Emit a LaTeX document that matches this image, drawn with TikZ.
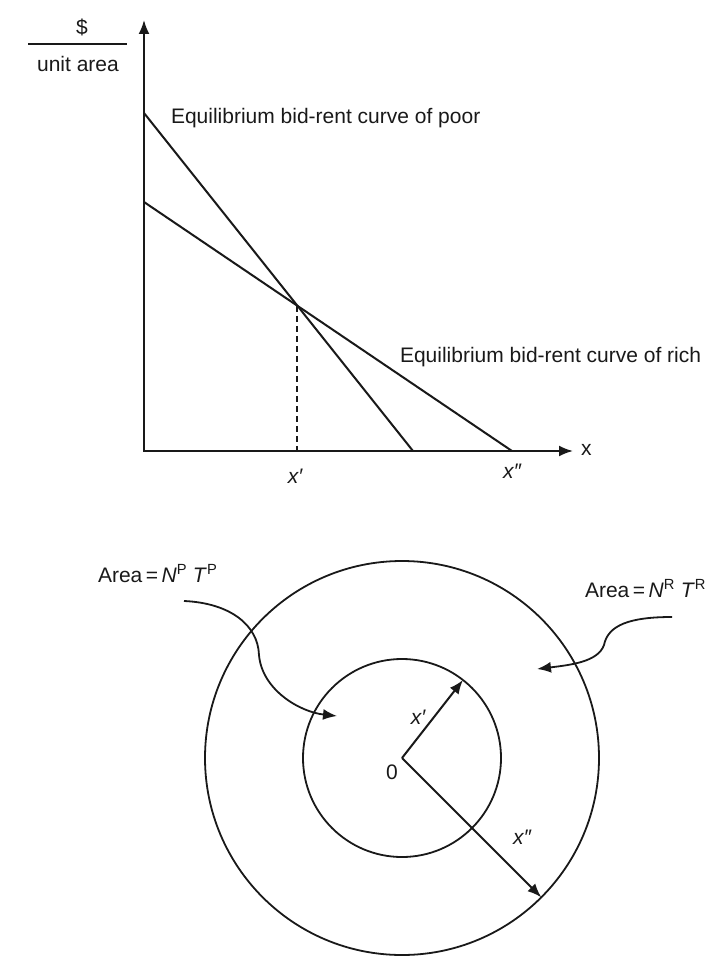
\documentclass[tikz,border=0pt]{standalone}
\usepackage{fontspec}
\setmainfont{Liberation Sans}
\usetikzlibrary{arrows.meta,calc}
\definecolor{ink}{rgb}{0.1,0.1,0.1}
\begin{document}
\begin{tikzpicture}[x=1pt,y=-1pt,line width=2pt,draw=ink,
  lbl/.style={font=\fontsize{21}{25}\selectfont,text=ink,inner sep=0pt,outer sep=0pt},
  tipend/.style={-{Latex[length=14pt,width=11pt]}},
  ring/.style={circle,draw=ink,line width=1.8pt,inner sep=0pt,outer sep=0pt}]
\useasboundingbox (0,0) rectangle (714,957);
% ---------- graph ----------
\coordinate (O) at (144,451);
\coordinate (ytop) at (144,20);
\coordinate (xend) at (573,451);
\draw[{Latex[length=14pt,width=11pt]}-{Latex[length=14pt,width=11pt]}] (ytop) -- (O) -- (xend);
\node[lbl,anchor=west] (xlab) at (581,450) {x};
\coordinate (p0) at (144,113);
\coordinate (p1) at (413,451);
\coordinate (r0) at (144,202);
\coordinate (r1) at (512,451);
\draw (p0) -- (p1);
\draw (r0) -- (r1);
\coordinate (X) at (intersection of p0--p1 and r0--r1);
\coordinate (Xb) at (X |- O);
\draw[line width=2pt,dash pattern=on 6pt off 4pt] (X) -- (Xb);
\node[lbl,anchor=base west] (poor) at (171,124) {Equilibrium bid-rent curve of poor};
\node[lbl,anchor=base west] (rich) at (400,362) {Equilibrium bid-rent curve of rich};
\node[lbl] (xp) at (295,476) {\itshape x′};
\node[lbl] (xpp) at (512,471) {\itshape x″};
\node[lbl] (dollar) at (82,27) {\$};
\coordinate (ru0) at (28,44);
\coordinate (ru1) at (127,44);
\draw[line width=1.8pt] (ru0) -- (ru1);
\node[lbl,anchor=base] (ua) at (78,72) {unit area};
% ---------- city ----------
\coordinate (C) at (402,758);
\node[ring,minimum size=198pt] (inner) at (C) {};
\node[ring,minimum size=394pt] (outer) at (C) {};
\draw[tipend] (C) -- (inner.52.6);
\draw[tipend] (C) -- (outer.-45);
\node[lbl] (zero) at (392,772) {0};
\node[lbl] (rxp) at (418,717) {\itshape x′};
\node[lbl] (rxpp) at (522,837) {\itshape x″};
\node[lbl,anchor=base west] (areaP) at (98,582) {Area\,=\,\textit{N}\textsuperscript{P} \textit{T}\textsuperscript{P}};
\node[lbl,anchor=base west] (areaR) at (585,597) {Area\,=\,\textit{N}\textsuperscript{R} \textit{T}\textsuperscript{R}};
\coordinate (wl0) at (184,601);
\coordinate (wl1) at (337,716);
\draw[tipend,line width=1.8pt] (wl0) .. controls (230,603) and (258,625) .. (259,655) .. controls (262,690) and (300,712) .. (wl1);
\coordinate (wr0) at (672,617);
\coordinate (wr1) at (537,669);
\draw[tipend,line width=1.8pt] (wr0) .. controls (630,617) and (608,625) .. (604,645) .. controls (598,662) and (570,665) .. (wr1);
\end{tikzpicture}
\end{document}
